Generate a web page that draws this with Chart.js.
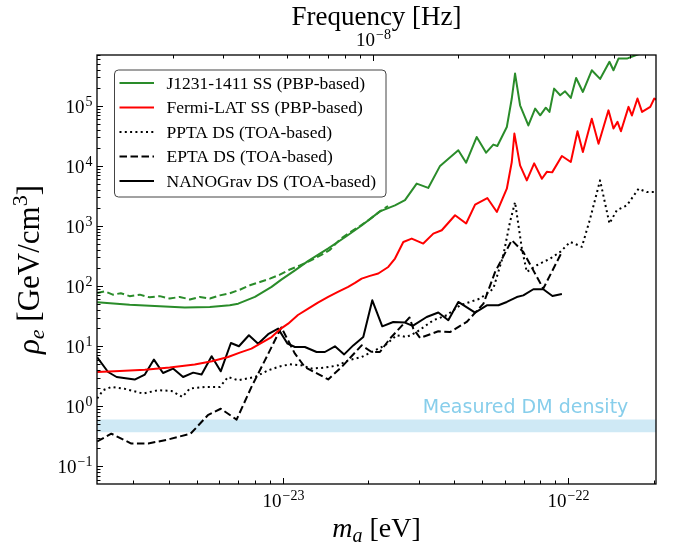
<!DOCTYPE html>
<html>
<head>
<meta charset="utf-8">
<script src="https://cdn.jsdelivr.net/npm/chart.js@4.4.1/dist/chart.umd.min.js"></script>
<style>
  body { margin: 0; background: #fff; }
</style>
</head>
<body>
<canvas id="chart" width="673" height="546"></canvas>
<script>
// axis ranges (eV, GeV/cm^3) and frequency conversion f = 2 m / h
const M_MIN = 2.236e-24, M_MAX = 2.037e-22;
const RHO_MIN = 0.0509, RHO_MAX = 7.0e5;
const HZ_PER_EV = 2 / 4.135667e-15;

// J1231-1411 SS (PBP-based), solid green
const j1231Mass = [2.24e-24, 2.91e-24, 3.71e-24, 4.54e-24, 5.56e-24, 6.53e-24, 6.99e-24, 8.0e-24, 9.15e-24, 9.9e-24,
  1.105e-23, 1.227e-23, 1.442e-23, 1.654e-23, 1.893e-23, 2.194e-23, 2.478e-23, 2.686e-23, 2.952e-23, 3.24e-23,
  3.565e-23, 4.13e-23, 4.40e-23, 4.79e-23, 5.17e-23, 5.48e-23, 5.66e-23, 6.11e-23, 6.36e-23, 6.53e-23,
  6.80e-23, 7.27e-23, 7.68e-23, 8.0e-23, 8.37e-23, 8.62e-23, 8.95e-23, 9.4e-23, 9.78e-23, 1.024e-22,
  1.069e-22, 1.129e-22, 1.213e-22, 1.297e-22, 1.399e-22, 1.445e-22, 1.505e-22, 1.61e-22, 1.765e-22, 2.04e-22];
const j1231Rho = [54, 49, 46, 44, 45, 48, 51, 66, 97, 128,
  183, 260, 420, 650, 1020, 1750, 2200, 2700, 5070, 4300,
  10000, 18200, 11300, 30200, 16600, 22600, 21400, 44400, 1.32e5, 3.44e5,
  1.02e5, 4.7e4, 8.98e4, 6.95e4, 9.3e4, 7.9e4, 1.93e5, 1.5e5, 1.74e5, 1.35e5,
  2.9e5, 1.7e5, 3.9e5, 2.8e5, 5.4e5, 3.9e5, 6.1e5, 6.1e5, 7.2e5, 9.5e5];

// J1231-1411 dashed green (not in legend)
const j1231DashMass = [2.24e-24, 2.38e-24, 2.54e-24, 2.71e-24, 2.91e-24, 3.16e-24, 3.42e-24, 3.71e-24, 4.02e-24, 4.36e-24,
  4.73e-24, 5.13e-24, 5.56e-24, 6.03e-24, 6.53e-24, 7.08e-24, 7.68e-24, 8.33e-24, 9.03e-24, 9.78e-24,
  1.061e-23, 1.15e-23, 1.247e-23, 1.352e-23, 1.466e-23, 1.589e-23, 1.722e-23, 1.867e-23, 2.024e-23, 2.194e-23, 2.342e-23];
const j1231DashRho = [77, 82, 72, 76, 68, 72, 65, 68, 62, 66,
  60, 66, 62, 70, 76, 87, 103, 117, 133, 155,
  189, 220, 262, 320, 400, 600, 780, 1000, 1300, 1750, 2150];

// Fermi-LAT SS (PBP-based), red
const fermiMass = [2.24e-24, 2.69e-24, 3.29e-24, 4.02e-24, 4.92e-24, 5.65e-24, 6.44e-24, 7.08e-24, 7.78e-24, 8.46e-24,
  9.15e-24, 9.78e-24, 1.046e-23, 1.132e-23, 1.23e-23, 1.33e-23, 1.445e-23, 1.563e-23, 1.698e-23, 1.794e-23,
  1.893e-23, 2.024e-23, 2.165e-23, 2.347e-23, 2.478e-23, 2.65e-23, 2.836e-23, 3.113e-23, 3.376e-23, 3.614e-23,
  4.024e-23, 4.40e-23, 4.73e-23, 5.22e-23, 5.64e-23, 6.11e-23, 6.36e-23, 6.495e-23, 6.80e-23, 7.18e-23,
  7.62e-23, 8.11e-23, 8.44e-23, 8.81e-23, 9.53e-23, 1.024e-22, 1.081e-22, 1.129e-22, 1.213e-22, 1.281e-22,
  1.388e-22, 1.445e-22, 1.493e-22, 1.535e-22, 1.632e-22, 1.677e-22, 1.754e-22, 1.82e-22, 1.945e-22, 2.009e-22, 2.06e-22];
const fermiRho = [3.72, 3.85, 4.07, 4.4, 4.94, 5.6, 6.6, 7.8, 9.1, 11.5,
  14.2, 19, 23.7, 33, 42, 53, 66, 80, 97, 113,
  133, 148, 162, 208, 287, 542, 617, 510, 747, 850,
  1510, 1100, 2270, 2920, 1710, 4170, 11600, 34500, 10200, 5740,
  11000, 6100, 7960, 7800, 14600, 11600, 37700, 17000, 61000, 23400,
  84000, 42000, 54000, 37700, 96000, 69000, 132000, 79000, 96000, 132000, 125000];

// PPTA DS (TOA-based), dotted
const pptaMass = [2.24e-24, 2.35e-24, 2.51e-24, 2.8e-24, 3.24e-24, 3.66e-24, 4.08e-24, 4.45e-24, 4.73e-24, 5.34e-24,
  6.03e-24, 6.44e-24, 6.99e-24, 8.0e-24, 8.9e-24, 9.78e-24, 1.061e-23, 1.166e-23, 1.264e-23, 1.407e-23,
  1.567e-23, 1.698e-23, 1.893e-23, 2.053e-23, 2.285e-23, 2.512e-23, 2.723e-23, 2.953e-23, 3.376e-23, 3.762e-23,
  4.19e-23, 4.923e-23, 5.48e-23, 5.94e-23, 6.27e-23, 6.53e-23, 6.9e-23, 7.18e-23, 7.78e-23, 8.67e-23,
  9.4e-23, 1.019e-22, 1.12e-22, 1.197e-22, 1.297e-22, 1.399e-22, 1.485e-22, 1.61e-22, 1.77e-22, 1.892e-22, 2.04e-22];
const pptaRho = [1.35, 1.85, 2.1, 1.95, 1.63, 1.85, 1.8, 1.43, 1.97, 2.1,
  2.1, 3.07, 2.71, 3.07, 3.97, 4.6, 5.0, 4.8, 4.24, 4.4,
  4.8, 5.8, 6.6, 8.0, 10.3, 15.2, 14.2, 17.2, 27, 32.7,
  47.9, 61.9, 90.6, 327, 1170, 2490, 420, 172, 222, 287,
  370, 543, 450, 1320, 5740, 1100, 1830, 2200, 4170, 3660, 3660];

// EPTA DS (TOA-based), dashed
const eptaMass = [2.24e-24, 2.51e-24, 2.95e-24, 3.38e-24, 3.97e-24, 4.76e-24, 5.47e-24, 6.07e-24, 6.9e-24, 7.78e-24,
  8.67e-24, 9.9e-24, 1.105e-23, 1.197e-23, 1.445e-23, 1.61e-23, 1.893e-23, 2.053e-23, 2.194e-23, 2.38e-23,
  2.786e-23, 2.872e-23, 3.032e-23, 3.515e-23, 3.864e-23, 4.42e-23, 5.06e-23, 5.56e-23, 6.36e-23, 6.98e-23,
  8.2e-23, 9.53e-23];
const eptaRho = [0.26, 0.35, 0.24, 0.24, 0.28, 0.35, 0.71, 0.91, 0.6, 2.1,
  5.8, 20.5, 7.5, 4.5, 2.8, 4.5, 10.3, 8.0, 8.0, 13.4,
  30, 19.6, 13.7, 17.7, 17.2, 25.3, 51, 172, 580, 370,
  90.6, 370];

// NANOGrav DS (TOA-based), solid black
const nanoMass = [2.24e-24, 2.445e-24, 2.62e-24, 3.03e-24, 3.29e-24, 3.54e-24, 3.81e-24, 4.13e-24, 4.48e-24, 4.86e-24,
  5.2e-24, 5.64e-24, 6.07e-24, 6.59e-24, 7.03e-24, 7.62e-24, 8.21e-24, 8.9e-24, 9.65e-24, 1.041e-23,
  1.105e-23, 1.197e-23, 1.316e-23, 1.407e-23, 1.526e-23, 1.644e-23, 1.769e-23, 1.918e-23, 2.063e-23, 2.236e-23,
  2.443e-23, 2.686e-23, 2.858e-23, 3.2e-23, 3.515e-23, 3.81e-23, 4.13e-23, 4.73e-23, 5.2e-23, 5.71e-23,
  6.11e-23, 6.62e-23, 6.98e-23, 7.57e-23, 8.2e-23, 8.83e-23, 9.53e-23];
const nanoRho = [6.5, 3.72, 3.07, 2.78, 3.37, 5.98, 3.58, 4.24, 3.07, 3.63,
  3.37, 6.8, 3.82, 11.3, 9.96, 15.2, 11.0, 15.8, 19.6, 11.0,
  9.7, 9.7, 8.0, 8.0, 9.96, 7.3, 10.3, 14.2, 58, 21.4,
  25.3, 24.7, 21.7, 30.6, 36.3, 27, 54.4, 36.3, 47.9, 47.9,
  54.4, 65.6, 70, 88.6, 88.6, 68.5, 73.7];

// measured local DM density band
const bandMass = [M_MIN, M_MAX];
const bandLow = [0.37, 0.37];
const bandHigh = [0.6, 0.6];
const dmLabel = 'Measured DM density';
const dmLabelMass = 3.1e-23, dmLabelRho = 0.76;

const GREEN = '#2a8c2a';
const RED = '#ff0000';
const INK = '#000000';
const SERIF = '"Liberation Serif", "DejaVu Serif", serif';

const pts = (xs, ys) => xs.map((x, i) => ({ x: x, y: ys[i] }));

function logTicks(min, max) {
    const out = [];
    for (let e = Math.floor(Math.log10(min)); e <= Math.ceil(Math.log10(max)); e++) {
        for (let k = 1; k <= 9; k++) {
            const v = k * Math.pow(10, e);
            if (v >= min * 0.999 && v <= max * 1.001) out.push({ v: v, e: e, major: k === 1 });
        }
    }
    return out;
}

// "10" with a superscript exponent
function drawPower(ctx, exp, x, y, align) {
    const base = '19px ' + SERIF, sup = '14px ' + SERIF;
    const supText = exp < 0 ? '\u2212' + (-exp) : String(exp);
    ctx.font = base;
    const wb = ctx.measureText('10').width;
    ctx.font = sup;
    const ws = ctx.measureText(supText).width;
    const total = wb + 1 + ws;
    const x0 = align === 'right' ? x - total : x - total / 2;
    ctx.textAlign = 'left';
    ctx.textBaseline = 'alphabetic';
    ctx.font = base;
    ctx.fillText('10', x0, y);
    ctx.font = sup;
    ctx.fillText(supText, x0 + wb + 1, y - 7);
}

// text made of pieces with their own font and vertical shift, centred on x
function drawRich(ctx, parts, x, y) {
    let total = 0;
    parts.forEach(p => { ctx.font = p.font; p.w = ctx.measureText(p.t).width; total += p.w; });
    let cx = x - total / 2;
    ctx.textAlign = 'left';
    ctx.textBaseline = 'alphabetic';
    parts.forEach(p => {
        ctx.font = p.font;
        ctx.fillText(p.t, cx, y + (p.dy || 0));
        cx += p.w;
    });
}

const axesPlugin = {
    id: 'axesPlugin',
    afterDraw(chart) {
        const { ctx, chartArea: a, scales } = chart;
        const xs = scales.x, ys = scales.y, xt = scales.xTop;
        ctx.save();
        ctx.fillStyle = INK;
        ctx.strokeStyle = INK;

        // text annotation for the band
        ctx.fillStyle = '#87ceeb';
        ctx.font = '19px "DejaVu Sans", sans-serif';
        ctx.textAlign = 'left';
        ctx.textBaseline = 'alphabetic';
        ctx.fillText(dmLabel, xs.getPixelForValue(dmLabelMass), ys.getPixelForValue(dmLabelRho));
        ctx.fillStyle = INK;

        // frame
        ctx.lineWidth = 1.3;
        ctx.strokeRect(a.left, a.top, a.right - a.left, a.bottom - a.top);

        ctx.lineWidth = 1;
        // bottom ticks, inward
        logTicks(xs.min, xs.max).forEach(t => {
            const px = Math.round(xs.getPixelForValue(t.v)) + 0.5;
            const len = t.major ? 6 : 3.5;
            ctx.beginPath(); ctx.moveTo(px, a.bottom); ctx.lineTo(px, a.bottom - len); ctx.stroke();
            if (t.major) drawPower(ctx, t.e, px, 507, 'center');
        });
        // top ticks (frequency), inward
        logTicks(xt.min, xt.max).forEach(t => {
            const px = Math.round(xt.getPixelForValue(t.v)) + 0.5;
            const len = t.major ? 6 : 3.5;
            ctx.beginPath(); ctx.moveTo(px, a.top); ctx.lineTo(px, a.top + len); ctx.stroke();
            if (t.major) drawPower(ctx, t.e, px, 46, 'center');
        });
        // left ticks, inward
        logTicks(ys.min, ys.max).forEach(t => {
            const py = Math.round(ys.getPixelForValue(t.v)) + 0.5;
            const len = t.major ? 6 : 3.5;
            ctx.beginPath(); ctx.moveTo(a.left, py); ctx.lineTo(a.left + len, py); ctx.stroke();
            if (t.major) drawPower(ctx, t.e, a.left - 4.5, py + 6.5, 'right');
        });

        // axis titles
        const cx = (a.left + a.right) / 2;
        ctx.font = '27px ' + SERIF;
        ctx.textAlign = 'center';
        ctx.fillText('Frequency [Hz]', cx, 25);
        drawRich(ctx, [
            { t: 'm', font: 'italic 28px ' + SERIF },
            { t: 'a', font: 'italic 20px ' + SERIF, dy: 5 },
            { t: ' [eV]', font: '28px ' + SERIF }
        ], cx, 537);
        ctx.save();
        ctx.translate(39, (a.top + a.bottom) / 2);
        ctx.rotate(-Math.PI / 2);
        drawRich(ctx, [
            { t: '\u03c1', font: 'italic 31px ' + SERIF },
            { t: 'e', font: 'italic 22px ' + SERIF, dy: 5 },
            { t: ' [GeV/cm', font: '31px ' + SERIF },
            { t: '3', font: '22px ' + SERIF, dy: -12 },
            { t: ']', font: '31px ' + SERIF }
        ], 0, 0);
        ctx.restore();

        // legend
        const lx = 114, ly = 69.5, lw = 271.5, lh = 127;
        ctx.beginPath();
        ctx.roundRect(lx + 0.5, ly + 0.5, lw, lh, 4);
        ctx.fillStyle = '#ffffff';
        ctx.fill();
        ctx.strokeStyle = '#444444';
        ctx.lineWidth = 1;
        ctx.stroke();
        ctx.font = '17.5px ' + SERIF;
        ctx.textAlign = 'left';
        chart.data.datasets.filter(d => d.inLegend).forEach((d, i) => {
            const rowY = 83 + i * 24.5;
            ctx.strokeStyle = d.borderColor;
            ctx.lineWidth = d.borderWidth;
            ctx.setLineDash(d.borderDash || []);
            ctx.beginPath(); ctx.moveTo(119.5, rowY); ctx.lineTo(154, rowY); ctx.stroke();
            ctx.setLineDash([]);
            ctx.fillStyle = INK;
            ctx.fillText(d.label, 166.5, rowY + 5.5);
        });
        ctx.restore();
    }
};

const line = (label, xs, ys, color, dash, inLegend) => ({
    label: label,
    data: pts(xs, ys),
    borderColor: color,
    borderWidth: 2,
    borderDash: dash,
    borderCapStyle: 'butt',
    borderJoinStyle: 'round',
    pointRadius: 0,
    fill: false,
    tension: 0,
    inLegend: inLegend
});

const ctx = document.getElementById('chart').getContext('2d');
new Chart(ctx, {
    type: 'line',
    data: {
        datasets: [
            line('J1231-1411 SS (PBP-based)', j1231Mass, j1231Rho, GREEN, [], true),
            line('Fermi-LAT SS (PBP-based)', fermiMass, fermiRho, RED, [], true),
            line('PPTA DS (TOA-based)', pptaMass, pptaRho, INK, [2, 3.3], true),
            line('EPTA DS (TOA-based)', eptaMass, eptaRho, INK, [7.5, 3.5], true),
            line('NANOGrav DS (TOA-based)', nanoMass, nanoRho, INK, [], true),
            line('J1231-1411 dashed', j1231DashMass, j1231DashRho, GREEN, [7, 3.5], false),
            {
                label: 'band high', data: pts(bandMass, bandHigh), borderWidth: 0, pointRadius: 0,
                backgroundColor: '#cfe9f5', fill: '+1', inLegend: false
            },
            {
                label: 'band low', data: pts(bandMass, bandLow), borderWidth: 0, pointRadius: 0,
                fill: false, inLegend: false
            }
        ]
    },
    options: {
        responsive: false,
        animation: false,
        devicePixelRatio: 1,
        layout: { padding: { left: 97, top: 55, right: 17, bottom: 62 } },
        scales: {
            x: { type: 'logarithmic', min: M_MIN, max: M_MAX, display: false },
            xTop: { type: 'logarithmic', position: 'top', axis: 'x', min: M_MIN * HZ_PER_EV, max: M_MAX * HZ_PER_EV, display: false },
            y: { type: 'logarithmic', min: RHO_MIN, max: RHO_MAX, display: false }
        },
        plugins: {
            legend: { display: false },
            tooltip: { enabled: false }
        }
    },
    plugins: [axesPlugin]
});
</script>
</body>
</html>
